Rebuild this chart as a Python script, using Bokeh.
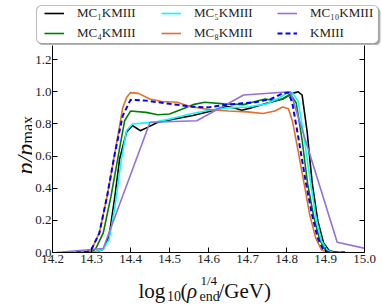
from bokeh.plotting import figure
from bokeh.models import (Range1d, FixedTicker, NumeralTickFormatter, LinearAxis,
                          Legend, LegendItem, BoxAnnotation)
from bokeh.layouts import row, column
from bokeh.core.properties import value
from bokeh.embed import file_html
from bokeh.resources import INLINE
from math import pi

# ---------------- data ----------------
x_ticks = [14.2, 14.3, 14.4, 14.5, 14.6, 14.7, 14.8, 14.9, 15.0]
y_ticks = [0.0, 0.2, 0.4, 0.6, 0.8, 1.0, 1.2, 1.4]

series_names = ["MC\u2081KMIII", "MC\u2084KMIII", "MC\u2085KMIII",
                "MC\u2088KMIII", "MC\u2081\u2080KMIII", "KMIII"]

mc1_x = [14.28, 14.31, 14.33, 14.345, 14.36, 14.372, 14.39, 14.405, 14.425, 14.445,
         14.47, 14.51, 14.56, 14.61, 14.645, 14.665, 14.685, 14.71, 14.745, 14.79,
         14.815, 14.83, 14.84, 14.853, 14.866, 14.88, 14.895, 14.91, 14.93, 14.95]
mc1_y = [0.0, 0.003, 0.02, 0.1, 0.35, 0.58, 0.75, 0.79, 0.758, 0.78,
         0.81, 0.83, 0.852, 0.882, 0.91, 0.9, 0.885, 0.9, 0.925, 0.955,
         0.99, 1.0, 0.98, 0.75, 0.43, 0.2, 0.06, 0.01, 0.0, 0.0]

mc4_x = [14.27, 14.30, 14.31, 14.33, 14.35, 14.37, 14.385, 14.40, 14.44, 14.47,
         14.50, 14.53, 14.56, 14.59, 14.64, 14.69, 14.72, 14.745, 14.77, 14.79,
         14.81, 14.825, 14.84, 14.854, 14.87, 14.885, 14.90, 14.92, 14.95]
mc4_y = [0.0, 0.005, 0.02, 0.12, 0.35, 0.62, 0.82, 0.88, 0.872, 0.857,
         0.862, 0.89, 0.92, 0.935, 0.925, 0.92, 0.94, 0.955, 0.945, 0.955,
         0.985, 0.93, 0.7, 0.43, 0.22, 0.08, 0.015, 0.0, 0.0]

mc5_x = [14.28, 14.31, 14.33, 14.345, 14.36, 14.376, 14.39, 14.405, 14.43, 14.46,
         14.50, 14.55, 14.60, 14.65, 14.70, 14.75, 14.78, 14.80, 14.815, 14.83,
         14.845, 14.862, 14.876, 14.89, 14.905, 14.92, 14.95]
mc5_y = [0.0, 0.003, 0.02, 0.08, 0.28, 0.57, 0.76, 0.80, 0.805, 0.81,
         0.83, 0.86, 0.885, 0.9, 0.905, 0.925, 0.96, 0.99, 0.995, 0.94,
         0.72, 0.43, 0.21, 0.07, 0.012, 0.0, 0.0]

mc8_x = [14.26, 14.29, 14.30, 14.32, 14.34, 14.36, 14.38, 14.39, 14.40, 14.42,
         14.45, 14.48, 14.52, 14.55, 14.60, 14.65, 14.70, 14.74, 14.77, 14.79,
         14.805, 14.815, 14.83, 14.845, 14.86, 14.875, 14.89, 14.91, 14.95]
mc8_y = [0.0, 0.005, 0.02, 0.12, 0.35, 0.62, 0.9, 0.965, 0.995, 0.99,
         0.955, 0.94, 0.935, 0.91, 0.89, 0.88, 0.875, 0.865, 0.88, 0.905,
         0.895, 0.82, 0.63, 0.43, 0.23, 0.09, 0.015, 0.0, 0.0]

mc10_x = [14.21, 14.33, 14.45, 14.57, 14.69, 14.81, 14.93, 15.05]
mc10_y = [0.0, 0.025, 0.81, 0.82, 0.98, 1.0, 0.064, 0.0]

km_x = [14.26, 14.29, 14.30, 14.32, 14.34, 14.36, 14.38, 14.40, 14.44, 14.50,
        14.56, 14.60, 14.64, 14.68, 14.72, 14.76, 14.79, 14.805, 14.815, 14.83,
        14.85, 14.865, 14.88, 14.895, 14.91, 14.95]
km_y = [0.0, 0.005, 0.02, 0.12, 0.35, 0.62, 0.85, 0.95, 0.945, 0.925,
        0.907, 0.903, 0.918, 0.927, 0.935, 0.955, 0.99, 0.995, 0.93, 0.72,
        0.43, 0.24, 0.09, 0.015, 0.0, 0.0]

series_x = [mc1_x, mc4_x, mc5_x, mc8_x, mc10_x, km_x]
series_y = [mc1_y, mc4_y, mc5_y, mc8_y, mc10_y, km_y]
colors = ["#000000", "#008000", "#00FFFF", "#E2702A", "#9370DB", "#0000FF"]
dashes = ["solid", "solid", "solid", "solid", "solid", "5 3"]
widths = [1.6, 1.6, 1.6, 1.6, 1.6, 2.0]

# axis-title pieces: text, page x, page baseline y, size, style
xlabel_parts = [("log", 138, 290, "21px", "normal"),
                ("10", 166.5, 295, "14px", "normal"),
                ("(", 180, 290, "21px", "normal"),
                ("\u03c1", 186.5, 290, "21px", "italic"),
                ("1/4", 200, 280, "13px", "normal"),
                ("end", 199, 296, "14px", "normal"),
                ("/GeV)", 218, 290, "21px", "normal")]
ylabel_parts = [("p/p", 24, 174, "24px", "italic"),
                ("max", 27, 143, "16px", "normal")]

SERIF = "Liberation Serif"
W, H = 382, 306
YW = 32                   # width of the y-title strip
LEG_H = 45                # height of the legend strip
FRAME_L, FRAME_R, FRAME_B = 50, 364, 252
MAIN_BOTTOM = 270         # page y where the x-title strip starts
FRAME_T = LEG_H

def strip(w, h, xr, yr):
    f = figure(width=w, height=h, output_backend="svg", toolbar_location=None,
               x_range=Range1d(*xr), y_range=Range1d(*yr),
               x_axis_type=None, y_axis_type=None, min_border=0)
    f.frame_align = False
    f.outline_line_color = None
    f.grid.visible = False
    return f

# ---------------- legend strip ----------------
pl = strip(W - YW, LEG_H, (YW, W), (0, LEG_H))

def ly(page_y):
    return LEG_H - page_y

pl.add_layout(BoxAnnotation(left=38, right=380, top=ly(7), bottom=ly(45),
                            fill_color="#555555", fill_alpha=0.45, line_color=None,
                            border_radius=5))
pl.add_layout(BoxAnnotation(left=36, right=378, top=ly(5), bottom=ly(43),
                            fill_color="white", fill_alpha=1.0, line_color="#333333",
                            line_width=1.2, border_radius=5))

nan = float("nan")
samples = [pl.line(x=[nan], y=[nan], line_color=c, line_width=w, line_dash=d)
           for c, w, d in zip(colors, widths, dashes)]
col_x = [44, 161, 277]
for ci, cx in enumerate(col_x):
    its = [LegendItem(label=series_names[2 * ci + k], renderers=[samples[2 * ci + k]])
           for k in range(2)]
    pl.add_layout(Legend(items=its, location=(cx - YW, ly(41)), orientation="vertical",
                         label_text_font=SERIF, label_text_font_size="13px",
                         label_text_color="#222222",
                         glyph_width=20, glyph_height=14, label_height=14,
                         label_standoff=13, spacing=4, padding=0, margin=0,
                         border_line_color=None, background_fill_alpha=0.0))

# ---------------- main figure ----------------
y_top = 1.4 * (FRAME_B - FRAME_T) / (FRAME_B - 27)
p = figure(width=W - YW, height=MAIN_BOTTOM - LEG_H, output_backend="svg",
           toolbar_location=None,
           x_range=Range1d(14.2, 15.0), y_range=Range1d(0.0, y_top),
           min_border_left=FRAME_L - YW, min_border_right=W - FRAME_R,
           min_border_top=0, min_border_bottom=MAIN_BOTTOM - FRAME_B)
p.frame_align = False
p.background_fill_color = "white"
p.border_fill_color = "white"
p.outline_line_color = None
p.grid.visible = False

for xs, ys, c, w, d in zip(series_x, series_y, colors, widths, dashes):
    p.line(xs, ys, line_color=c, line_width=w, line_dash=d)

def style_axis(ax, labels=True):
    ax.major_tick_in = 5
    ax.major_tick_out = 0
    ax.minor_tick_line_color = None
    ax.axis_line_color = "black"
    ax.major_tick_line_color = "black"
    ax.major_label_text_font = SERIF
    ax.major_label_text_font_size = "13px"
    ax.major_label_text_color = "#222222" if labels else None
    ax.major_label_standoff = 2

p.xaxis.ticker = FixedTicker(ticks=x_ticks)
p.yaxis.ticker = FixedTicker(ticks=y_ticks)
p.xaxis.formatter = NumeralTickFormatter(format="0.0")
p.yaxis.formatter = NumeralTickFormatter(format="0.0")
style_axis(p.xaxis[0])
style_axis(p.yaxis[0])
p.yaxis.major_label_standoff = 1

rax = LinearAxis(ticker=FixedTicker(ticks=y_ticks))
style_axis(rax, labels=False)
p.add_layout(rax, "right")

# ---------------- x-title strip ----------------
px_ = strip(W - YW, H - MAIN_BOTTOM, (YW, W), (0, H - MAIN_BOTTOM))
for t, x, yb, s, st in xlabel_parts:
    px_.text(x=[x], y=[H - yb], text=[t], text_font=value(SERIF), text_font_size=value(s),
             text_font_style=st, text_color="#111111", text_align="left",
             text_baseline="alphabetic")

# ---------------- y-title strip ----------------
py_ = strip(YW, H, (0, YW), (0, H))
for t, x, yb, s, st in ylabel_parts:
    py_.text(x=[x], y=[H - yb], text=[t], text_font=value(SERIF), text_font_size=value(s),
             text_font_style=st, text_color="#111111", text_align="left",
             text_baseline="alphabetic", angle=pi / 2)

layout = row(py_, column(pl, p, px_))
open("out.html", "w").write(file_html(layout, INLINE))
